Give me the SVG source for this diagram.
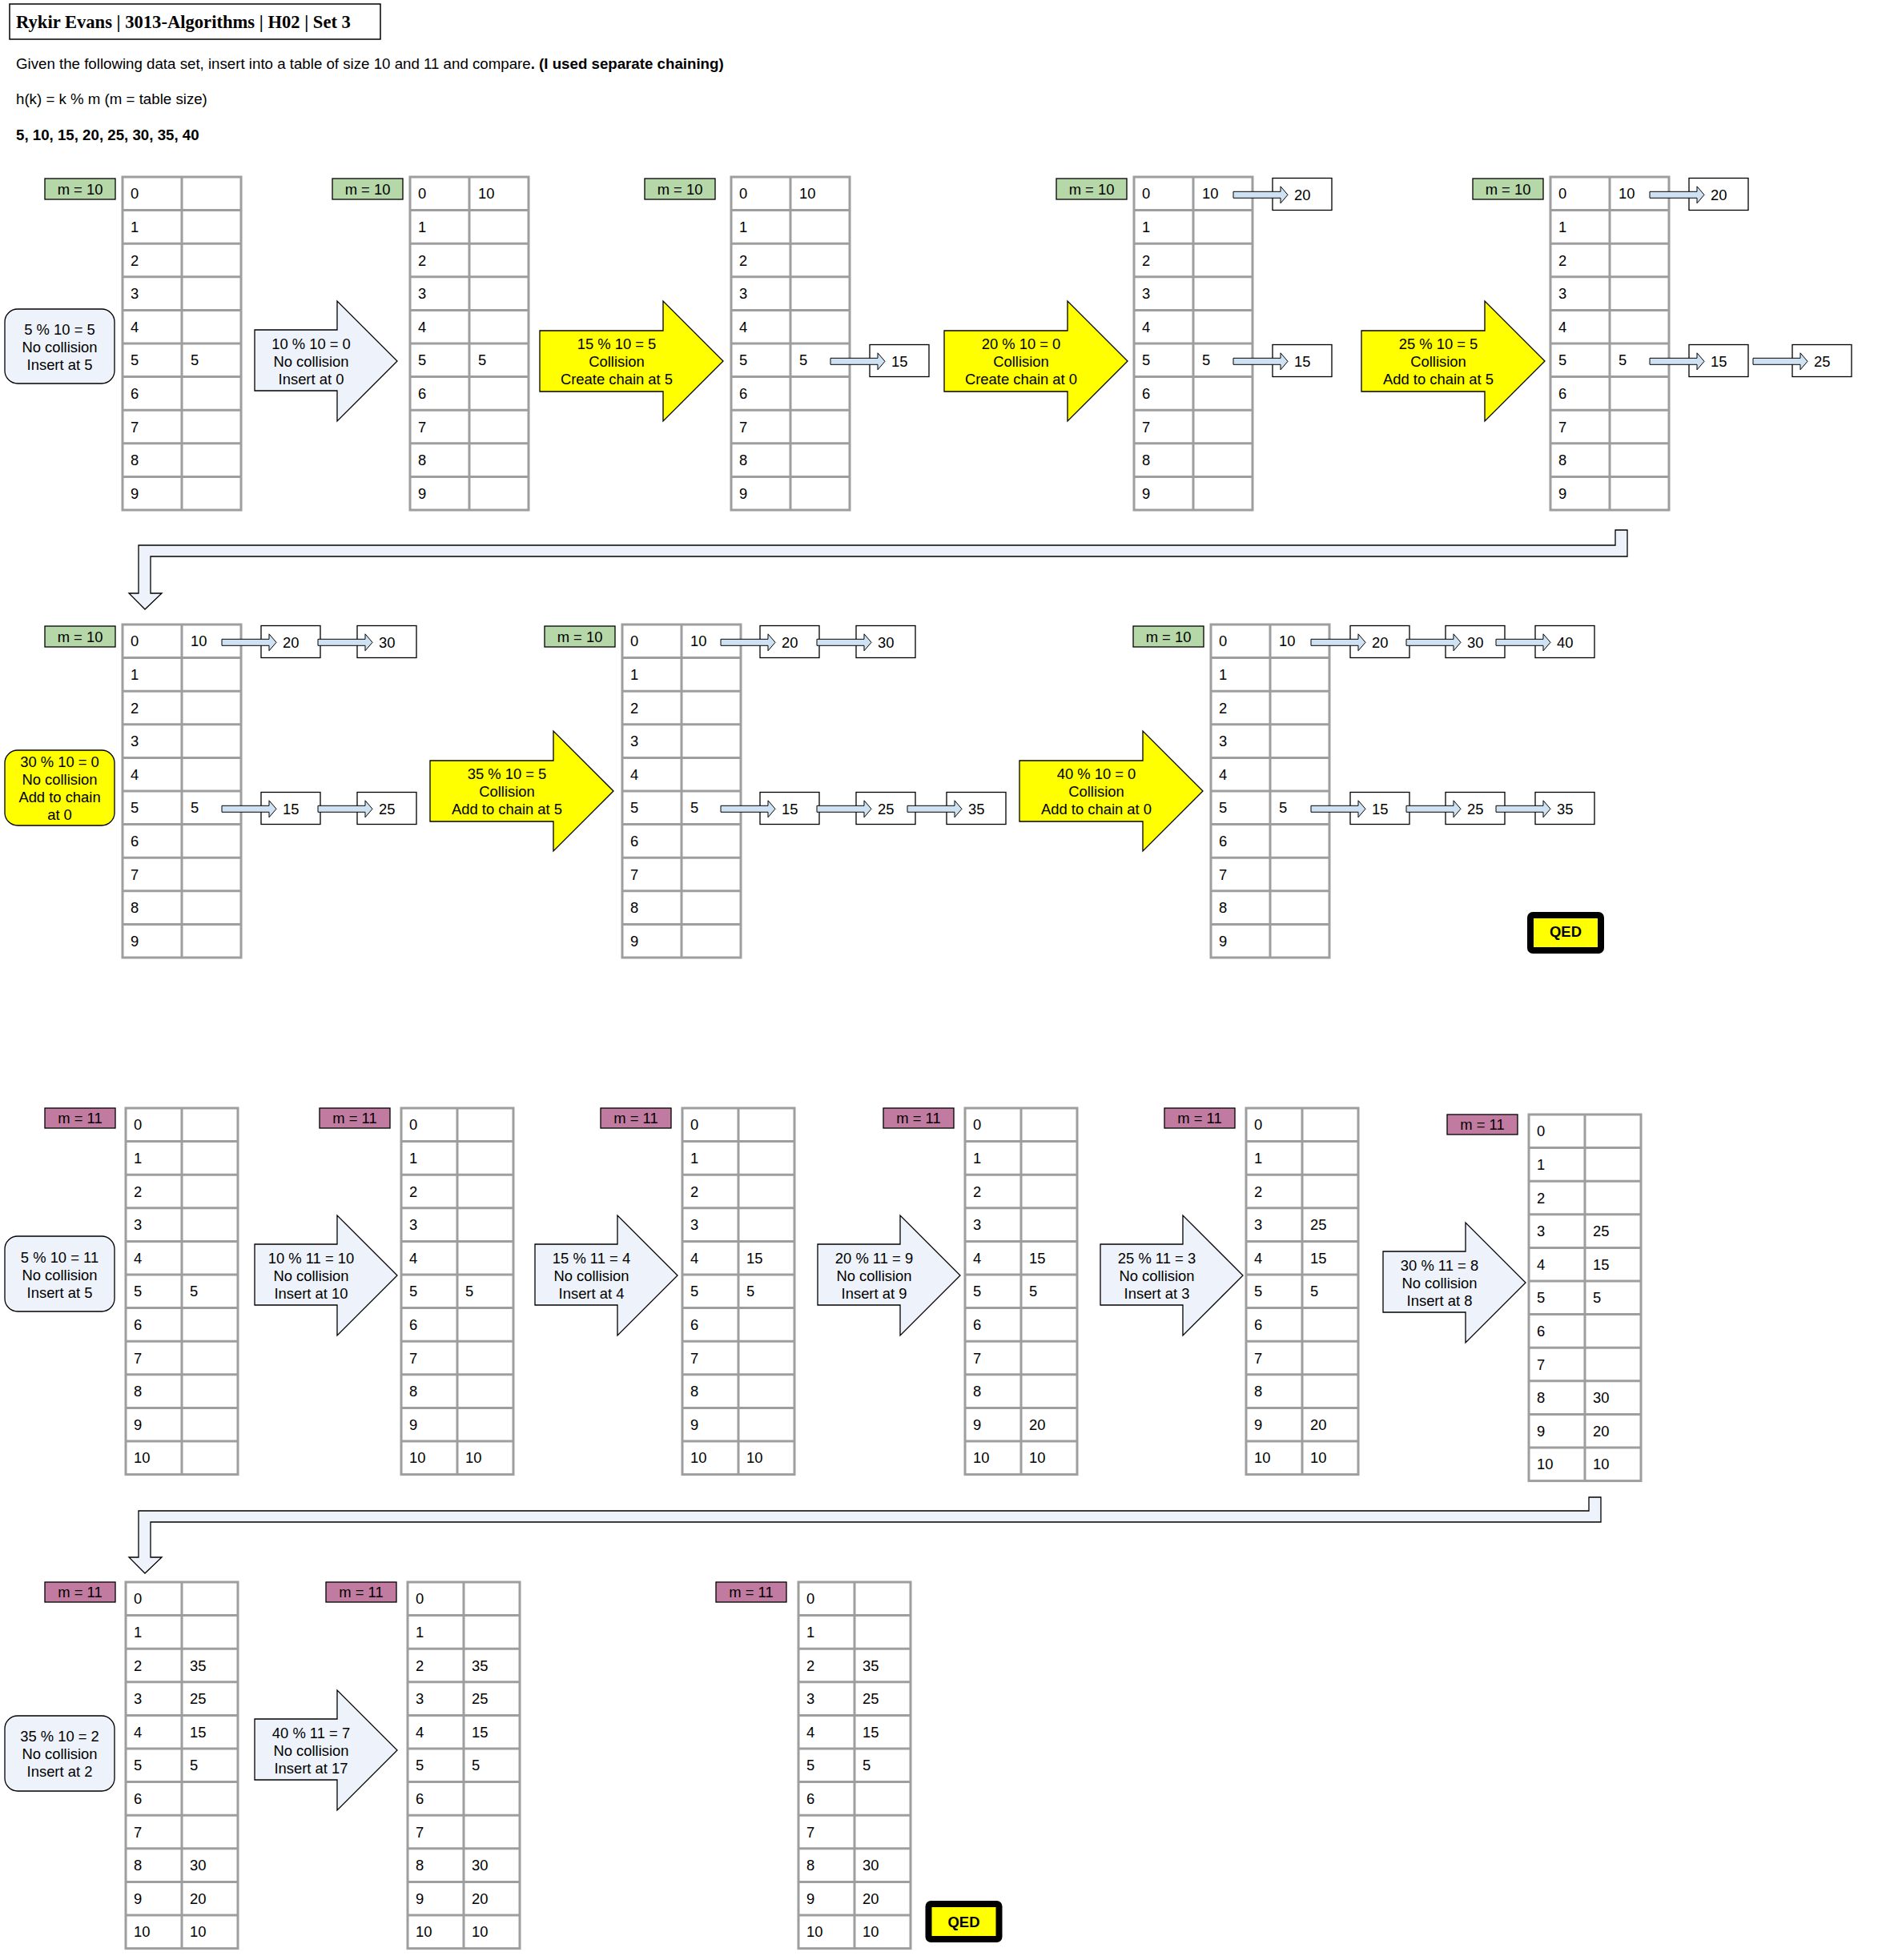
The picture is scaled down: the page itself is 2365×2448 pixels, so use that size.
<svg xmlns="http://www.w3.org/2000/svg" xmlns:xlink="http://www.w3.org/1999/xlink" width="2365" height="2448" viewBox="0 0 2365 2448">
<style>
text{font-family:"Liberation Sans",Arial,sans-serif;font-size:18.4px;fill:#000}
.c{text-anchor:middle}
.b{font-weight:bold}
.hd{font-size:18.7px}
.title{font-family:"Liberation Serif","Times New Roman",serif;font-size:22.6px;font-weight:bold}
.grid{fill:#fff;stroke:#9e9e9e;stroke-width:3}
.gl{fill:none;stroke:#9e9e9e;stroke-width:3}
.l10{fill:#b6d7a8;stroke:#000;stroke-width:1.3}
.l11{fill:#c27ba0;stroke:#000;stroke-width:1.3}
.box{fill:#fff;stroke:#000;stroke-width:1.3}
.blue{fill:#eef3fb;stroke:#000;stroke-width:1.3}
.yel{fill:#ffff00;stroke:#000;stroke-width:1.3}
.ptr{fill:#cfe2f3;stroke:#000;stroke-width:1}
.qed{fill:#ffff00;stroke:#000;stroke-width:8}
</style>
<defs>
<g id="g10">
<rect class="grid" x="0" y="0" width="148" height="416"/>
<path class="gl" d="M74 0V416M0 41.6H148M0 83.2H148M0 124.8H148M0 166.4H148M0 208H148M0 249.6H148M0 291.2H148M0 332.8H148M0 374.4H148"/>
<text x="10" y="27.3">0</text><text x="10" y="68.9">1</text><text x="10" y="110.5">2</text><text x="10" y="152.1">3</text><text x="10" y="193.7">4</text><text x="10" y="235.3">5</text><text x="10" y="276.9">6</text><text x="10" y="318.5">7</text><text x="10" y="360.1">8</text><text x="10" y="401.7">9</text>
</g>
<g id="g11">
<rect class="grid" x="0" y="0" width="140" height="457.6"/>
<path class="gl" d="M70 0V457.6M0 41.6H140M0 83.2H140M0 124.8H140M0 166.4H140M0 208H140M0 249.6H140M0 291.2H140M0 332.8H140M0 374.4H140M0 416H140"/>
<text x="10" y="27.3">0</text><text x="10" y="68.9">1</text><text x="10" y="110.5">2</text><text x="10" y="152.1">3</text><text x="10" y="193.7">4</text><text x="10" y="235.3">5</text><text x="10" y="276.9">6</text><text x="10" y="318.5">7</text><text x="10" y="360.1">8</text><text x="10" y="401.7">9</text><text x="10" y="443.3">10</text>
</g>
<path id="ptr" class="ptr" d="M0 -4H59V-10.5L68 0L59 10.5V4H0Z"/>
<path id="barrow" class="blue" d="M0 36H103V0L178 75L103 150V112H0Z"/>
<path id="yarrow" class="yel" d="M0 37H154V0L229 75L154 150V113H0Z"/>
</defs>
<rect width="2365" height="2448" fill="#fff"/>

<g id="header">
<rect x="12" y="5" width="463" height="44" fill="#fff" stroke="#000" stroke-width="1.5"/>
<text class="title" x="20" y="35">Rykir Evans | 3013-Algorithms | H02 | Set 3</text>
<text class="hd" x="20" y="86">Given the following data set, insert into a table of size 10 and 11 and compare<tspan class="b">. (I used separate chaining)</tspan></text>
<text class="hd" x="20" y="130">h(k) = k % m (m = table size)</text>
<text class="hd b" x="20" y="175">5, 10, 15, 20, 25, 30, 35, 40</text>
</g>

<!-- Row 1: m = 10 -->
<g id="t1" transform="translate(153,221)">
<rect class="l10" x="-97" y="2" width="88" height="26"/><text class="c" x="-53" y="21.5">m = 10</text>
<use href="#g10"/>
<text x="85" y="235.3">5</text>
</g>
<g id="t2" transform="translate(512,221)">
<rect class="l10" x="-97" y="2" width="88" height="26"/><text class="c" x="-53" y="21.5">m = 10</text>
<use href="#g10"/>
<text x="85" y="27.3">10</text><text x="85" y="235.3">5</text>
</g>
<g id="t3" transform="translate(913,221)">
<rect class="l10" x="-108" y="2" width="88" height="26"/><text class="c" x="-64" y="21.5">m = 10</text>
<use href="#g10"/>
<text x="85" y="27.3">10</text><text x="85" y="235.3">5</text>
<rect class="box" x="173" y="209.5" width="74" height="40"/><text x="200" y="237.3">15</text>
</g>
<g id="t4" transform="translate(1416,221)">
<rect class="l10" x="-97" y="2" width="88" height="26"/><text class="c" x="-53" y="21.5">m = 10</text>
<use href="#g10"/>
<text x="85" y="27.3">10</text><text x="85" y="235.3">5</text>
<rect class="box" x="173" y="1.5" width="74" height="40"/><text x="200" y="29.3">20</text>
<rect class="box" x="173" y="209.5" width="74" height="40"/><text x="200" y="237.3">15</text>
</g>
<g id="t5" transform="translate(1936,221)">
<rect class="l10" x="-97" y="2" width="88" height="26"/><text class="c" x="-53" y="21.5">m = 10</text>
<use href="#g10"/>
<text x="85" y="27.3">10</text><text x="85" y="235.3">5</text>
<rect class="box" x="173" y="1.5" width="74" height="40"/><text x="200" y="29.3">20</text>
<rect class="box" x="173" y="209.5" width="74" height="40"/><text x="200" y="237.3">15</text>
<rect class="box" x="302" y="209.5" width="74" height="40"/><text x="329" y="237.3">25</text>
</g>

<!-- Row 2: m = 10 -->
<g id="t6" transform="translate(153,780)">
<rect class="l10" x="-97" y="2" width="88" height="26"/><text class="c" x="-53" y="21.5">m = 10</text>
<use href="#g10"/>
<text x="85" y="27.3">10</text><text x="85" y="235.3">5</text>
<rect class="box" x="173" y="1.5" width="74" height="40"/><text x="200" y="29.3">20</text>
<rect class="box" x="293" y="1.5" width="74" height="40"/><text x="320" y="29.3">30</text>
<rect class="box" x="173" y="209.5" width="74" height="40"/><text x="200" y="237.3">15</text>
<rect class="box" x="293" y="209.5" width="74" height="40"/><text x="320" y="237.3">25</text>
</g>
<g id="t7" transform="translate(777,780)">
<rect class="l10" x="-97" y="2" width="88" height="26"/><text class="c" x="-53" y="21.5">m = 10</text>
<use href="#g10"/>
<text x="85" y="27.3">10</text><text x="85" y="235.3">5</text>
<rect class="box" x="172" y="1.5" width="74" height="40"/><text x="199" y="29.3">20</text>
<rect class="box" x="292" y="1.5" width="74" height="40"/><text x="319" y="29.3">30</text>
<rect class="box" x="172" y="209.5" width="74" height="40"/><text x="199" y="237.3">15</text>
<rect class="box" x="292" y="209.5" width="74" height="40"/><text x="319" y="237.3">25</text>
<rect class="box" x="405" y="209.5" width="74" height="40"/><text x="432" y="237.3">35</text>
</g>
<g id="t8" transform="translate(1512,780)">
<rect class="l10" x="-97" y="2" width="88" height="26"/><text class="c" x="-53" y="21.5">m = 10</text>
<use href="#g10"/>
<text x="85" y="27.3">10</text><text x="85" y="235.3">5</text>
<rect class="box" x="174" y="1.5" width="74" height="40"/><text x="201" y="29.3">20</text>
<rect class="box" x="293" y="1.5" width="74" height="40"/><text x="320" y="29.3">30</text>
<rect class="box" x="405" y="1.5" width="74" height="40"/><text x="432" y="29.3">40</text>
<rect class="box" x="174" y="209.5" width="74" height="40"/><text x="201" y="237.3">15</text>
<rect class="box" x="293" y="209.5" width="74" height="40"/><text x="320" y="237.3">25</text>
<rect class="box" x="405" y="209.5" width="74" height="40"/><text x="432" y="237.3">35</text>
</g>

<!-- Row 3: m = 11 -->
<g id="t9" transform="translate(157,1384)">
<rect class="l11" x="-101" y="0" width="88" height="25"/><text class="c" x="-57" y="19">m = 11</text>
<use href="#g11"/>
<text x="80" y="235.3">5</text>
</g>
<g id="t10" transform="translate(501,1384)">
<rect class="l11" x="-102" y="0" width="88" height="25"/><text class="c" x="-58" y="19">m = 11</text>
<use href="#g11"/>
<text x="80" y="235.3">5</text><text x="80" y="443.3">10</text>
</g>
<g id="t11" transform="translate(852,1384)">
<rect class="l11" x="-102" y="0" width="88" height="25"/><text class="c" x="-58" y="19">m = 11</text>
<use href="#g11"/>
<text x="80" y="193.7">15</text><text x="80" y="235.3">5</text><text x="80" y="443.3">10</text>
</g>
<g id="t12" transform="translate(1205,1384)">
<rect class="l11" x="-102" y="0" width="88" height="25"/><text class="c" x="-58" y="19">m = 11</text>
<use href="#g11"/>
<text x="80" y="193.7">15</text><text x="80" y="235.3">5</text><text x="80" y="401.7">20</text><text x="80" y="443.3">10</text>
</g>
<g id="t13" transform="translate(1556,1384)">
<rect class="l11" x="-102" y="0" width="88" height="25"/><text class="c" x="-58" y="19">m = 11</text>
<use href="#g11"/>
<text x="80" y="152.1">25</text><text x="80" y="193.7">15</text><text x="80" y="235.3">5</text><text x="80" y="401.7">20</text><text x="80" y="443.3">10</text>
</g>
<g id="t14" transform="translate(1909,1392)">
<rect class="l11" x="-102" y="0" width="88" height="25"/><text class="c" x="-58" y="19">m = 11</text>
<use href="#g11"/>
<text x="80" y="152.1">25</text><text x="80" y="193.7">15</text><text x="80" y="235.3">5</text><text x="80" y="360.1">30</text><text x="80" y="401.7">20</text><text x="80" y="443.3">10</text>
</g>

<!-- Row 4: m = 11 -->
<g id="t15" transform="translate(157,1976)">
<rect class="l11" x="-101" y="0" width="88" height="25"/><text class="c" x="-57" y="19">m = 11</text>
<use href="#g11"/>
<text x="80" y="110.5">35</text><text x="80" y="152.1">25</text><text x="80" y="193.7">15</text><text x="80" y="235.3">5</text><text x="80" y="360.1">30</text><text x="80" y="401.7">20</text><text x="80" y="443.3">10</text>
</g>
<g id="t16" transform="translate(509,1976)">
<rect class="l11" x="-102" y="0" width="88" height="25"/><text class="c" x="-58" y="19">m = 11</text>
<use href="#g11"/>
<text x="80" y="110.5">35</text><text x="80" y="152.1">25</text><text x="80" y="193.7">15</text><text x="80" y="235.3">5</text><text x="80" y="360.1">30</text><text x="80" y="401.7">20</text><text x="80" y="443.3">10</text>
</g>
<g id="t17" transform="translate(997,1976)">
<rect class="l11" x="-103" y="0" width="88" height="25"/><text class="c" x="-59" y="19">m = 11</text>
<use href="#g11"/>
<text x="80" y="110.5">35</text><text x="80" y="152.1">25</text><text x="80" y="193.7">15</text><text x="80" y="235.3">5</text><text x="80" y="360.1">30</text><text x="80" y="401.7">20</text><text x="80" y="443.3">10</text>
</g>

<!-- Callouts -->
<g id="c1"><rect class="blue" x="6" y="386" width="137" height="93" rx="16"/>
<text class="c" x="74.5" y="417.5">5 % 10 = 5</text><text class="c" x="74.5" y="439.5">No collision</text><text class="c" x="74.5" y="461.5">Insert at 5</text></g>
<g id="c2"><rect class="yel" x="6" y="937" width="137" height="94" rx="16"/>
<text class="c" x="74.5" y="957.5">30 % 10 = 0</text><text class="c" x="74.5" y="979.5">No collision</text><text class="c" x="74.5" y="1001.5">Add to chain</text><text class="c" x="74.5" y="1023.5">at 0</text></g>
<g id="c3"><rect class="blue" x="6" y="1544" width="137" height="94" rx="16"/>
<text class="c" x="74.5" y="1577">5 % 10 = 11</text><text class="c" x="74.5" y="1599">No collision</text><text class="c" x="74.5" y="1621">Insert at 5</text></g>
<g id="c4"><rect class="blue" x="6" y="2143" width="137" height="94" rx="16"/>
<text class="c" x="74.5" y="2174.5">35 % 10 = 2</text><text class="c" x="74.5" y="2196.5">No collision</text><text class="c" x="74.5" y="2218.5">Insert at 2</text></g>

<!-- Step arrows -->
<g id="a1" transform="translate(318,376)"><use href="#barrow"/>
<text class="c" x="70.5" y="59.5">10 % 10 = 0</text><text class="c" x="70.5" y="81.5">No collision</text><text class="c" x="70.5" y="103.5">Insert at 0</text></g>
<g id="a2" transform="translate(674,376)"><use href="#yarrow"/>
<text class="c" x="96" y="59.5">15 % 10 = 5</text><text class="c" x="96" y="81.5">Collision</text><text class="c" x="96" y="103.5">Create chain at 5</text></g>
<g id="a3" transform="translate(1179,376)"><use href="#yarrow"/>
<text class="c" x="96" y="59.5">20 % 10 = 0</text><text class="c" x="96" y="81.5">Collision</text><text class="c" x="96" y="103.5">Create chain at 0</text></g>
<g id="a4" transform="translate(1700,376)"><use href="#yarrow"/>
<text class="c" x="96" y="59.5">25 % 10 = 5</text><text class="c" x="96" y="81.5">Collision</text><text class="c" x="96" y="103.5">Add to chain at 5</text></g>
<g id="a5" transform="translate(537,913)"><use href="#yarrow"/>
<text class="c" x="96" y="59.5">35 % 10 = 5</text><text class="c" x="96" y="81.5">Collision</text><text class="c" x="96" y="103.5">Add to chain at 5</text></g>
<g id="a6" transform="translate(1273,913)"><use href="#yarrow"/>
<text class="c" x="96" y="59.5">40 % 10 = 0</text><text class="c" x="96" y="81.5">Collision</text><text class="c" x="96" y="103.5">Add to chain at 0</text></g>
<g id="a7" transform="translate(318,1518)"><use href="#barrow"/>
<text class="c" x="70.5" y="59.5">10 % 11 = 10</text><text class="c" x="70.5" y="81.5">No collision</text><text class="c" x="70.5" y="103.5">Insert at 10</text></g>
<g id="a8" transform="translate(668,1518)"><use href="#barrow"/>
<text class="c" x="70.5" y="59.5">15 % 11 = 4</text><text class="c" x="70.5" y="81.5">No collision</text><text class="c" x="70.5" y="103.5">Insert at 4</text></g>
<g id="a9" transform="translate(1021,1518)"><use href="#barrow"/>
<text class="c" x="70.5" y="59.5">20 % 11 = 9</text><text class="c" x="70.5" y="81.5">No collision</text><text class="c" x="70.5" y="103.5">Insert at 9</text></g>
<g id="a10" transform="translate(1374,1518)"><use href="#barrow"/>
<text class="c" x="70.5" y="59.5">25 % 11 = 3</text><text class="c" x="70.5" y="81.5">No collision</text><text class="c" x="70.5" y="103.5">Insert at 3</text></g>
<g id="a11" transform="translate(1727,1527)"><use href="#barrow"/>
<text class="c" x="70.5" y="59.5">30 % 11 = 8</text><text class="c" x="70.5" y="81.5">No collision</text><text class="c" x="70.5" y="103.5">Insert at 8</text></g>
<g id="a12" transform="translate(318,2111)"><use href="#barrow"/>
<text class="c" x="70.5" y="59.5">40 % 11 = 7</text><text class="c" x="70.5" y="81.5">No collision</text><text class="c" x="70.5" y="103.5">Insert at 17</text></g>

<!-- QED -->
<g id="qed1"><rect class="qed" x="1911" y="1143" width="88" height="44" rx="3"/><text class="c b" x="1955" y="1170">QED</text></g>
<g id="qed2"><rect class="qed" x="1159.5" y="2378" width="88" height="44" rx="3"/><text class="c b" x="1203.5" y="2406.5">QED</text></g>

<!-- Connectors -->
<g id="connectors">
<use href="#ptr" x="1037" y="451.3"/>
<use href="#ptr" x="1540" y="243.3"/><use href="#ptr" x="1540" y="451.3"/>
<use href="#ptr" x="2060" y="243.3"/><use href="#ptr" x="2060" y="451.3"/><use href="#ptr" x="2189" y="451.3"/>
<use href="#ptr" x="277" y="802.3"/><use href="#ptr" x="397" y="802.3"/>
<use href="#ptr" x="277" y="1010.3"/><use href="#ptr" x="397" y="1010.3"/>
<use href="#ptr" x="900" y="802.3"/><use href="#ptr" x="1020" y="802.3"/>
<use href="#ptr" x="900" y="1010.3"/><use href="#ptr" x="1020" y="1010.3"/><use href="#ptr" x="1133" y="1010.3"/>
<use href="#ptr" x="1637" y="802.3"/><use href="#ptr" x="1756" y="802.3"/><use href="#ptr" x="1868" y="802.3"/>
<use href="#ptr" x="1637" y="1010.3"/><use href="#ptr" x="1756" y="1010.3"/><use href="#ptr" x="1868" y="1010.3"/>
<path class="blue" d="M2017 662H2032V695H188V741H202L181 761L161 741H173V681H2017Z"/>
<path class="blue" d="M1984 1870H1999V1901H188V1945H202L181 1965L161 1945H173V1887H1984Z"/>
</g>
</svg>
